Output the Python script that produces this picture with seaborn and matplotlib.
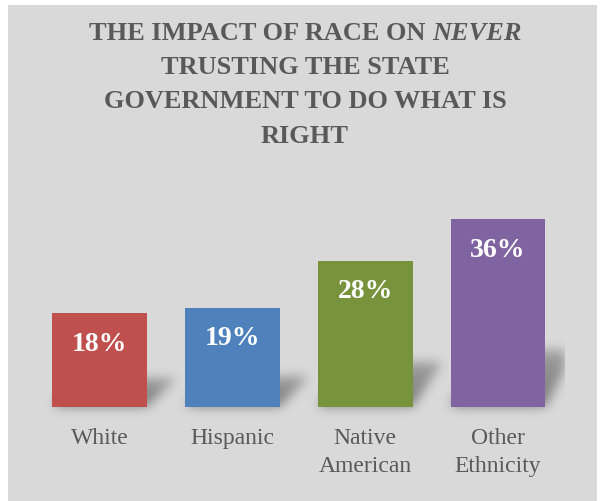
import numpy as np
import pandas as pd
import matplotlib
matplotlib.use("Agg")
import matplotlib.pyplot as plt
import seaborn as sns
from matplotlib.patches import Rectangle

# ---- data ----
categories = ["White", "Hispanic", "Native\nAmerican", "Other\nEthnicity"]
percentages = [18, 19, 28, 36]
bar_colors = ["#C0504D", "#4F81BD", "#77933C", "#8064A2"]
title_lines = ["THE IMPACT OF RACE ON", "TRUSTING THE STATE",
               "GOVERNMENT TO DO WHAT IS", "RIGHT"]
title_emphasis = "NEVER"

sns.set_theme(style="white")
plt.rcParams["font.family"] = ["Liberation Serif", "DejaVu Serif"]

W, H, DPI = 600, 501, 100
BG = "#D9D9D9"
TEXT_GRAY = "#595959"

fig = plt.figure(figsize=(W / DPI, H / DPI), dpi=DPI, facecolor="white")
fig.add_artist(Rectangle((8 / W, 0), (597 - 8) / W, (H - 5) / H,
                         transform=fig.transFigure, facecolor=BG,
                         edgecolor="none", zorder=-10))

# plot area in pixels
px_left, px_right, px_top, px_bottom = 33, 564.5, 150, 417.4
ax = fig.add_axes([px_left / W, (H - px_bottom) / H,
                   (px_right - px_left) / W, (px_bottom - px_top) / H])
ax.set_facecolor("none")

df = pd.DataFrame({"group": categories, "pct": percentages})
bar_width = 0.714
sns.barplot(data=df, x="group", y="pct", hue="group", palette=bar_colors,
            width=bar_width, saturation=1, legend=False, ax=ax, zorder=3,
            edgecolor="none", linewidth=0)

# soft perspective shadows cast behind each bar
y_lo, y_hi = -4.0, 24.0
nx, ny = 540, 146
xs = np.linspace(-0.5, 3.5, nx)
ys = np.linspace(y_lo, y_hi, ny)
mask = np.zeros((ny, nx))
skew = 0.22
for i, v in enumerate(percentages):
    top = 0.3 * v
    for r, yv in enumerate(ys):
        if 0 <= yv <= top:
            frac = yv / top
            lo = i - bar_width / 2 + skew * frac
            hi = i + bar_width / 2 + skew * frac
            sel = (xs >= lo) & (xs <= hi)
            mask[r, sel] = np.maximum(mask[r, sel], 1 - 0.4 * frac)

sigma = 5.5
k = np.arange(-16, 17)
kern = np.exp(-k ** 2 / (2 * sigma ** 2))
kern /= kern.sum()
blur = np.apply_along_axis(lambda row: np.convolve(row, kern, mode="same"), 1, mask)
blur = np.apply_along_axis(lambda col: np.convolve(col, kern, mode="same"), 0, blur)
rgba = np.zeros((ny, nx, 4))
rgba[..., 3] = np.clip(blur, 0, 1) * 0.45
ax.imshow(rgba, extent=(-0.5, 3.5, y_lo, y_hi), origin="lower",
          aspect="auto", interpolation="bilinear", zorder=1)

ax.set_xlim(-0.5, 3.5)
ax.set_ylim(-2, 49.23)

for i, v in enumerate(percentages):
    ax.annotate(f"{v}%", xy=(i, v), xytext=(0, -27), textcoords="offset points",
                ha="center", va="baseline", color="white", fontsize=20,
                fontweight="bold", zorder=5)

ax.set_xticks(range(len(categories)))
ax.set_xticklabels(categories, fontsize=17, color=TEXT_GRAY, linespacing=1.45)
ax.tick_params(axis="x", length=0, pad=7.6)
ax.set_yticks([])
ax.set_xlabel("")
ax.set_ylabel("")
for s in ax.spines.values():
    s.set_visible(False)

# title, with the emphasised word set in italics
title_size = 19
title_kw = dict(fontsize=title_size, fontweight="bold", color=TEXT_GRAY, va="baseline")
baselines = [40, 74.5, 108, 143]
cx = 305
renderer = fig.canvas.get_renderer()
t1 = fig.text(0, 0, title_lines[0], ha="left", **title_kw)
t2 = fig.text(0, 0, title_emphasis, ha="left", style="italic", **title_kw)
w1 = t1.get_window_extent(renderer).width
w2 = t2.get_window_extent(renderer).width
gap = 0.25 * title_size * DPI / 72
x0 = cx - (w1 + gap + w2) / 2
t1.set_position((x0 / W, (H - baselines[0]) / H))
t2.set_position(((x0 + w1 + gap) / W, (H - baselines[0]) / H))
for line, b in zip(title_lines[1:], baselines[1:]):
    fig.text(cx / W, (H - b) / H, line, ha="center", **title_kw)

fig.savefig("out.png", dpi=DPI, facecolor="white")
